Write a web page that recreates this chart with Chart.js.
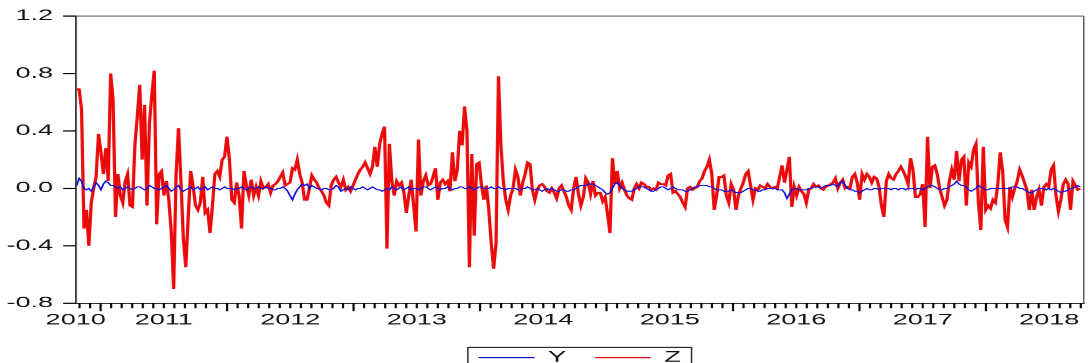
<!DOCTYPE html>
<html>
<head>
<meta charset="utf-8">
<title>Y and Z</title>
<script src="https://cdn.jsdelivr.net/npm/chart.js@4.4.1/dist/chart.umd.min.js"></script>
<style>
html, body { margin: 0; padding: 0; overflow: hidden; background: #fff; }
/* the original picture is stretched sideways, so the chart is drawn narrow and widened */
#wrap { position: absolute; left: 0; top: 0; width: 604px; height: 375px; transform: scaleX(1.801325); transform-origin: 0 0; }
</style>
</head>
<body>
<div id="wrap"><canvas id="chart"></canvas></div>
<script>
// Weekly observations, first one in late October 2010
const START_YEAR = 2010.811;
const WEEK = 7 / 365.25;
const X_MIN = 2010.803;
const X_MAX = 2018.773;

const YEAR_LABELS = ['2010', '2011', '2012', '2013', '2014', '2015', '2016', '2017', '2018'];
const Y_TICKS = [-0.8, -0.4, 0.0, 0.4, 0.8, 1.2];

const Y_VALUES = [
    0.02, 0.07, 0.05, 0.00, -0.01, 0.00, -0.02, 0.01, 0.04, 0.02,
    -0.01, 0.03, 0.05, 0.04, 0.02, 0.02, 0.01, 0.00, 0.01, -0.01,
    0.00, 0.01, 0.00, -0.01, 0.00, 0.01, 0.01, 0.00, -0.01, 0.00,
    0.02, 0.01, 0.00, 0.00, -0.01, 0.00, 0.01, 0.02, 0.00, -0.02,
    -0.01, 0.01, 0.02, -0.01, -0.02, -0.01, 0.00, 0.01, -0.01, 0.00,
    0.01, -0.01, 0.00, 0.01, -0.01, 0.00, 0.01, 0.00, 0.00, -0.01,
    0.00, 0.01, 0.00, 0.00, 0.00, -0.01, 0.00, 0.00, 0.01, 0.00,
    -0.01, 0.00, 0.01, 0.00, 0.00, 0.01, 0.00, 0.00, 0.01, 0.00,
    0.00, -0.01, -0.01, 0.00, 0.00, 0.01, 0.00, -0.02, -0.05, -0.08,
    -0.04, -0.01, 0.01, 0.03, 0.02, 0.03, 0.00, 0.02, 0.01, 0.00,
    0.00, -0.01, 0.00, 0.00, -0.01, -0.01, 0.00, 0.02, 0.01, -0.02,
    -0.01, 0.00, -0.01, 0.01, 0.00, -0.01, 0.00, 0.00, 0.01, 0.00,
    -0.01, 0.00, 0.01, 0.00, -0.01, -0.01, -0.02, -0.01, 0.00, -0.01,
    0.01, 0.00, -0.01, 0.00, 0.01, -0.01, 0.00, 0.01, -0.01, 0.00,
    0.00, -0.01, 0.00, 0.01, 0.01, 0.00, -0.01, 0.00, 0.01, 0.00,
    -0.01, 0.00, 0.00, 0.01, 0.00, -0.01, 0.00, 0.00, 0.01, 0.01,
    0.00, 0.00, 0.01, 0.00, -0.01, 0.00, 0.01, 0.01, 0.00, 0.00,
    0.00, 0.01, 0.00, 0.00, 0.01, 0.00, 0.00, -0.01, 0.00, 0.00,
    0.00, 0.00, -0.01, -0.01, 0.00, 0.00, 0.01, 0.00, -0.01, -0.01,
    0.00, -0.01, -0.02, -0.01, 0.00, -0.01, 0.00, -0.01, -0.02, -0.02,
    -0.01, -0.01, -0.02, -0.02, -0.01, -0.01, 0.00, 0.01, 0.02, 0.02,
    0.02, 0.03, 0.03, 0.03, 0.02, 0.01, 0.00, -0.01, -0.03, -0.04,
    -0.03, 0.00, 0.03, 0.04, 0.02, 0.00, -0.01, -0.02, -0.02, -0.02,
    -0.01, 0.00, 0.01, 0.01, 0.01, 0.00, -0.01, -0.02, -0.02, -0.01,
    0.00, 0.01, 0.01, 0.00, -0.01, 0.00, 0.01, 0.00, -0.01, -0.01,
    -0.01, -0.02, -0.02, -0.01, 0.00, 0.01, 0.01, 0.02, 0.02, 0.02,
    0.02, 0.01, 0.01, 0.00, -0.01, -0.01, -0.01, -0.02, -0.02, -0.02,
    -0.01, -0.02, -0.03, -0.03, -0.03, -0.02, -0.01, 0.00, 0.00, -0.01,
    -0.01, -0.02, -0.02, -0.01, -0.01, 0.00, 0.00, 0.00, 0.00, -0.01,
    -0.01, -0.01, -0.03, -0.07, -0.04, -0.01, 0.00, 0.00, -0.01, -0.01,
    -0.01, -0.01, 0.00, 0.00, 0.01, 0.01, 0.01, 0.00, 0.01, 0.02,
    0.02, 0.02, 0.03, 0.02, 0.01, 0.04, 0.05, 0.02, 0.00, -0.01,
    -0.01, -0.02, -0.02, -0.03, -0.02, -0.01, 0.00, -0.01, -0.01, 0.00,
    0.00, -0.01, 0.00, 0.00, 0.00, 0.00, -0.01, 0.00, 0.00, -0.01,
    0.00, 0.00, -0.01, 0.00, 0.00, 0.00, -0.01, 0.00, 0.00, -0.01,
    0.00, 0.01, 0.02, 0.02, 0.01, 0.00, -0.01, -0.01, 0.00, 0.00,
    0.01, 0.02, 0.03, 0.05, 0.03, 0.02, 0.02, 0.01, -0.01, -0.02,
    -0.01, 0.00, 0.02, 0.01, 0.00, -0.01, -0.01, 0.00, 0.00, 0.00,
    0.00, 0.00, 0.00, 0.00, 0.00, 0.00, 0.01, 0.01, 0.01, 0.00,
    0.00, -0.01, -0.02, -0.03, -0.03, -0.02, -0.01, 0.00, 0.00, 0.00,
    -0.01, 0.00, -0.01, 0.00, -0.01, -0.02, -0.03, -0.02, -0.02, -0.01,
    0.00, 0.00, 0.01, 0.02, 0.01
];

const Z_VALUES = [
    0.69, 0.69, 0.55, -0.28, -0.15, -0.40, -0.10, 0.00, 0.08, 0.38,
    0.25, 0.10, 0.28, 0.05, 0.80, 0.62, -0.20, 0.10, -0.05, -0.10,
    0.05, 0.10, -0.12, -0.13, 0.30, 0.50, 0.72, 0.20, 0.58, -0.12,
    0.45, 0.65, 0.82, -0.25, 0.10, 0.12, -0.05, 0.05, -0.08, -0.30,
    -0.70, 0.10, 0.42, 0.05, -0.35, -0.55, -0.20, 0.12, 0.02, -0.12,
    -0.15, -0.10, 0.08, -0.17, -0.15, -0.31, -0.12, 0.10, 0.12, 0.08,
    0.20, 0.22, 0.36, 0.20, -0.08, -0.10, 0.04, -0.05, -0.28, 0.12,
    0.02, -0.05, 0.06, -0.05, 0.01, -0.05, 0.05, 0.00, 0.01, 0.03,
    -0.03, 0.02, 0.03, 0.05, 0.08, 0.11, 0.02, 0.03, 0.04, 0.14,
    0.13, 0.20, 0.10, 0.04, -0.08, -0.08, 0.00, 0.09, 0.06, 0.04,
    0.00, -0.02, -0.05, -0.10, -0.12, 0.02, 0.06, 0.08, 0.04, 0.01,
    0.06, -0.01, 0.01, -0.02, 0.02, 0.06, 0.10, 0.13, 0.15, 0.18,
    0.14, 0.10, 0.15, 0.29, 0.15, 0.31, 0.38, 0.43, -0.42, 0.31,
    0.05, -0.05, 0.05, 0.02, 0.04, -0.03, -0.17, -0.05, 0.06, -0.12,
    -0.30, 0.34, -0.05, 0.05, 0.09, 0.02, 0.03, 0.08, 0.14, -0.08,
    0.04, 0.06, 0.03, 0.05, -0.02, 0.25, 0.05, 0.13, 0.40, 0.30,
    0.57, 0.40, -0.55, 0.24, -0.33, 0.17, 0.18, 0.02, -0.08, 0.02,
    -0.15, -0.38, -0.56, -0.38, 0.78, 0.30, 0.05, -0.08, -0.15, -0.05,
    0.00, 0.13, 0.08, -0.05, 0.04, 0.10, 0.18, 0.17, -0.01, -0.08,
    -0.01, 0.02, 0.03, 0.01, -0.02, -0.03, 0.00, -0.03, -0.07, 0.00,
    0.02, -0.02, -0.06, -0.12, -0.15, 0.00, 0.08, -0.04, -0.12, -0.06,
    0.07, 0.04, -0.04, 0.05, -0.05, -0.03, -0.03, -0.09, -0.06, -0.18,
    -0.31, 0.21, 0.03, 0.12, 0.00, 0.04, -0.01, -0.05, -0.07, -0.08,
    0.00, 0.03, 0.00, 0.04, 0.03, 0.01, 0.01, -0.01, 0.00, -0.01,
    0.04, 0.03, 0.03, 0.02, 0.09, 0.10, -0.03, -0.02, -0.04, -0.06,
    -0.10, -0.13, 0.00, 0.01, -0.01, 0.00, 0.01, 0.05, 0.07, 0.12,
    0.15, 0.20, 0.10, -0.15, -0.05, 0.08, 0.08, 0.09, -0.05, -0.10,
    0.03, -0.01, -0.15, -0.05, 0.00, 0.04, 0.10, 0.12, 0.02, -0.08,
    0.00, -0.01, 0.02, 0.01, 0.00, 0.03, 0.01, 0.00, 0.01, 0.00,
    0.08, 0.16, 0.04, 0.13, 0.22, -0.13, 0.01, -0.05, 0.01, -0.02,
    -0.04, -0.10, -0.01, 0.00, 0.03, 0.01, 0.02, 0.00, -0.01, 0.01,
    0.02, 0.03, 0.04, 0.07, 0.00, 0.04, 0.06, 0.00, 0.01, 0.00,
    0.08, 0.10, 0.04, -0.08, 0.10, 0.06, 0.10, 0.08, 0.04, 0.08,
    0.07, 0.01, -0.12, -0.20, 0.05, 0.10, 0.07, 0.06, 0.10, 0.12,
    0.15, 0.12, 0.08, 0.03, 0.21, 0.13, -0.06, -0.06, -0.04, 0.03,
    -0.27, 0.36, 0.00, 0.15, 0.16, 0.10, 0.00, -0.06, -0.12, -0.08,
    0.05, 0.13, 0.06, 0.26, 0.05, 0.20, 0.22, -0.12, 0.18, 0.15,
    0.27, 0.31, -0.10, -0.29, 0.29, -0.15, -0.12, -0.14, -0.08, -0.10,
    0.03, 0.25, 0.12, -0.22, -0.27, 0.01, -0.06, 0.00, 0.05, 0.13,
    0.09, 0.04, -0.01, -0.15, -0.01, -0.15, -0.06, -0.01, -0.12, 0.01,
    0.03, 0.01, 0.13, 0.16, -0.05, -0.16, -0.08, 0.03, 0.06, 0.03,
    -0.15, 0.05, 0.02, -0.01, 0.00
];

const FONT = { family: '"Liberation Sans", Arial, sans-serif', size: 15 };
const STRETCH = 1088 / 604;
const HIDDEN = 'rgba(0,0,0,0)';

function toPoints(values) {
    return values.map((v, i) => ({ x: START_YEAR + i * WEEK, y: v }));
}

// year labels sit at mid-year, the first one is pushed to the start of the axis
function labelPos(year) {
    return Math.max(Number(year) + 0.5, X_MIN);
}

function buildXTicks(scale) {
    const ticks = [{ value: X_MIN }];
    for (let yr = 2010; yr <= 2018; yr++) {
        for (let m = 0; m < 12; m++) {
            const v = yr + m / 12;
            if (v > X_MIN && v <= X_MAX) ticks.push({ value: v });
        }
    }
    scale.ticks = ticks;
}

// frame round the plot, tick marks and the box round the legend
function drawFrame(chart) {
    const a = chart.chartArea;
    const xs = chart.scales.x;
    const ys = chart.scales.y;
    const ctx = chart.ctx;
    ctx.save();
    ctx.globalAlpha = 1;
    ctx.globalCompositeOperation = 'source-over';
    ctx.fillStyle = '#555';
    ctx.fillRect(a.left, a.top - 0.5, a.right - a.left, 1);
    ctx.fillRect(a.right - 0.4, a.top, 0.8, a.bottom - a.top);

    // month ticks below the axis, longer where a year starts
    ctx.fillStyle = '#000';
    for (let yr = 2010; yr <= 2018; yr++) {
        for (let m = 0; m < 12; m++) {
            const v = yr + m / 12;
            if (v <= X_MIN || v > X_MAX) continue;
            const px = a.left + (v - X_MIN) / (X_MAX - X_MIN) * (a.right - a.left);
            ctx.fillRect(px - 0.6, a.bottom, 1.2, m === 0 ? 8 : 5);
        }
    }
    Y_TICKS.forEach(v => {
        const py = a.bottom - (v - Y_TICKS[0]) / (Y_TICKS[Y_TICKS.length - 1] - Y_TICKS[0]) * (a.bottom - a.top);
        ctx.fillRect(a.left - 7, py - 0.6, 7, 1.2);
    });

    const boxes = chart.legend && chart.legend.legendHitBoxes;
    if (boxes && boxes.length) {
        const first = boxes[0];
        const last = boxes[boxes.length - 1];
        const left = first.left - 6;
        const right = last.left + last.width + 6;
        const top = first.top - 3;
        ctx.fillStyle = '#222';
        ctx.fillRect(left, top - 0.5, right - left, 1);
        ctx.fillRect(left - 0.4, top, 0.8, 30);
        ctx.fillRect(right - 0.4, top, 0.8, 30);
    }
    ctx.restore();
}

const framePlugin = {
    id: 'frame',
    afterDraw(chart) {
        drawFrame(chart);
    }
};

const chart = new Chart(document.getElementById('chart'), {
    type: 'line',
    data: {
        datasets: [{
            label: 'Y',
            data: toPoints(Y_VALUES),
            borderColor: 'rgb(10, 10, 225)',
            borderWidth: 1,
            pointRadius: 0,
            tension: 0,
            order: 0
        }, {
            label: 'Z',
            data: toPoints(Z_VALUES),
            borderColor: 'rgb(235, 10, 10)',
            borderWidth: 1.8,
            pointRadius: 0,
            tension: 0,
            order: 1
        }]
    },
    options: {
        responsive: true,
        maintainAspectRatio: false,
        devicePixelRatio: STRETCH,
        animation: false,
        events: [],
        layout: { padding: { top: 16, right: 1.1, left: 0, bottom: 0 } },
        scales: {
            x: {
                type: 'linear',
                bounds: 'data',
                min: X_MIN,
                max: X_MAX,
                afterBuildTicks: buildXTicks,
                afterFit: s => { s.height = 31; },
                grid: { drawOnChartArea: false, tickLength: 4, tickColor: HIDDEN },
                border: { color: '#000', width: 1 },
                ticks: {
                    autoSkip: false,
                    maxRotation: 0,
                    minRotation: 0,
                    padding: 4,
                    color: '#111',
                    font: FONT,
                    callback: v => YEAR_LABELS.find(y => Math.abs(labelPos(y) - v) < 1e-6) || ''
                }
            },
            y: {
                min: -0.8,
                max: 1.2,
                afterBuildTicks: s => { s.ticks = Y_TICKS.map(v => ({ value: v })); },
                afterFit: s => { s.width = 42; },
                grid: { drawOnChartArea: false, tickLength: 6.5, tickColor: HIDDEN },
                border: { color: '#000', width: 0.8 },
                ticks: {
                    padding: 6,
                    color: '#111',
                    font: FONT,
                    callback: v => v.toFixed(1)
                }
            }
        },
        plugins: {
            tooltip: { enabled: false },
            legend: {
                position: 'bottom',
                fullSize: false,
                labels: {
                    usePointStyle: true,
                    pointStyle: 'line',
                    pointStyleWidth: 31,
                    padding: 16,
                    color: '#111',
                    font: FONT,
                    generateLabels: chart => Chart.defaults.plugins.legend.labels.generateLabels(chart)
                        .map(item => Object.assign(item, { lineWidth: 1 }))
                }
            }
        }
    },
    plugins: [framePlugin]
});

// layout report, in case the tick marks go missing again
const a = chart.chartArea;
console.error('chartArea', JSON.stringify({ left: a.left, right: a.right, top: a.top, bottom: a.bottom }),
    'canvas', chart.canvas.width, chart.canvas.height, 'ratio', chart.currentDevicePixelRatio,
    'xticks', chart.scales.x.ticks.length, 'yticks', chart.scales.y.ticks.length);
</script>
</body>
</html>
